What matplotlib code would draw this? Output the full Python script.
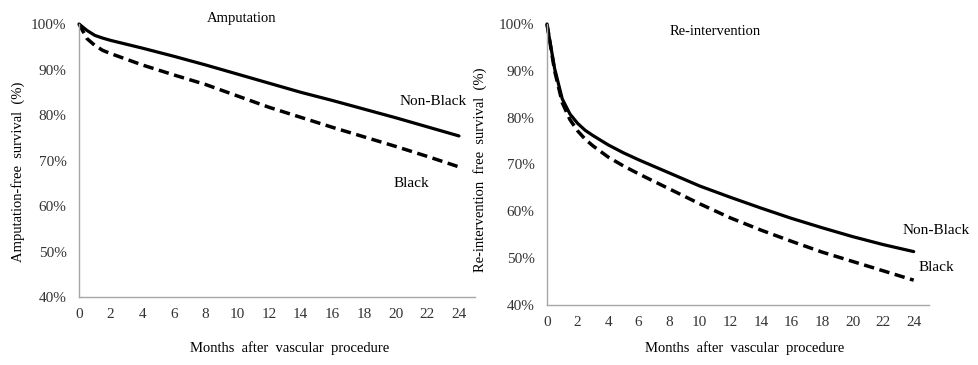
import numpy as np
import matplotlib.pyplot as plt

plt.rcParams['font.family'] = ['Liberation Serif', 'DejaVu Serif']

# Amputation-free survival (%)
amp_months = [0, 0.5, 1, 1.5, 2, 4, 6, 8, 10, 12, 14, 16, 18, 20, 22, 24]
amp_nonblack = [100, 98.6, 97.5, 96.9, 96.4, 94.7, 92.9, 91.0, 89.0, 87.0, 85.0, 83.2, 81.3, 79.4, 77.4, 75.4]
amp_black = [100, 96.8, 95.3, 94.2, 93.5, 91.0, 88.8, 86.7, 84.2, 81.7, 79.5, 77.3, 75.2, 73.1, 70.9, 68.6]

# Re-intervention free survival (%)
re_months = [0, 0.5, 1, 1.5, 2, 2.5, 3, 4, 5, 6, 8, 10, 12, 14, 16, 18, 20, 22, 24]
re_nonblack = [100, 90.5, 84.0, 80.8, 78.8, 77.3, 76.2, 74.2, 72.5, 71.0, 68.2, 65.4, 63.0, 60.7, 58.5, 56.5, 54.6, 52.9, 51.4]
re_black = [100, 90.0, 83.2, 79.6, 77.2, 75.4, 74.0, 71.6, 69.7, 68.0, 64.8, 61.6, 58.6, 56.0, 53.6, 51.3, 49.3, 47.3, 45.3]

xticks = list(range(0, 25, 2))
yticks = [40, 50, 60, 70, 80, 90, 100]


def style_axes(ax):
    ax.set_xlim(0, 25)
    ax.set_ylim(40, 100)
    ax.set_xticks(xticks)
    ax.set_yticks(yticks)
    ax.set_yticklabels([f"{v}%" for v in yticks])
    ax.spines['top'].set_visible(False)
    ax.spines['right'].set_visible(False)
    for s in ('left', 'bottom'):
        ax.spines[s].set_color('#a6a6a6')
        ax.spines[s].set_linewidth(1.0)
    ax.tick_params(length=0, labelsize=11, colors='#333333')
    ax.tick_params(axis='y', pad=9)
    ax.tick_params(axis='x', pad=8)


fig = plt.figure(figsize=(9.79, 3.65), dpi=100)

ax1 = fig.add_axes([0.0807, 0.1863, 0.4043, 0.7479])
ax1.plot(amp_months, amp_nonblack, color='black', lw=2.3, solid_capstyle='round', clip_on=False)
ax1.plot(amp_months, amp_black, color='black', lw=2.5, dashes=(3, 1.6), clip_on=False)
style_axes(ax1)
ax1.text(0.41, 1.022, "Amputation", transform=ax1.transAxes, ha='center', va='center', fontsize=10.5)
ax1.text(-0.154, 0.458, "Amputation-free  survival  (%)", transform=ax1.transAxes,
         rotation=90, ha='center', va='center', fontsize=10.5)
ax1.text(0.533, -0.187, "Months  after  vascular  procedure", transform=ax1.transAxes,
         ha='center', va='center', fontsize=10.5)
ax1.text(22.4, 82.9, "Non-Black", ha='center', va='center', fontsize=11)
ax1.text(21.0, 65.0, "Black", ha='center', va='center', fontsize=11)

ax2 = fig.add_axes([0.5587, 0.1644, 0.3902, 0.7699])
ax2.plot(re_months, re_nonblack, color='black', lw=2.3, solid_capstyle='round', clip_on=False)
ax2.plot(re_months, re_black, color='black', lw=2.5, dashes=(3, 1.6), clip_on=False)
style_axes(ax2)
ax2.text(0.44, 0.975, "Re-intervention", transform=ax2.transAxes, ha='center', va='center', fontsize=10.5)
ax2.text(-0.175, 0.48, "Re-intervention  free  survival  (%)", transform=ax2.transAxes,
         rotation=90, ha='center', va='center', fontsize=10.5)
ax2.text(0.518, -0.153, "Months  after  vascular  procedure", transform=ax2.transAxes,
         ha='center', va='center', fontsize=10.5)
ax2.text(25.5, 55.8, "Non-Black", ha='center', va='center', fontsize=11)
ax2.text(25.5, 48.0, "Black", ha='center', va='center', fontsize=11)

fig.savefig("out.png", dpi=100)
